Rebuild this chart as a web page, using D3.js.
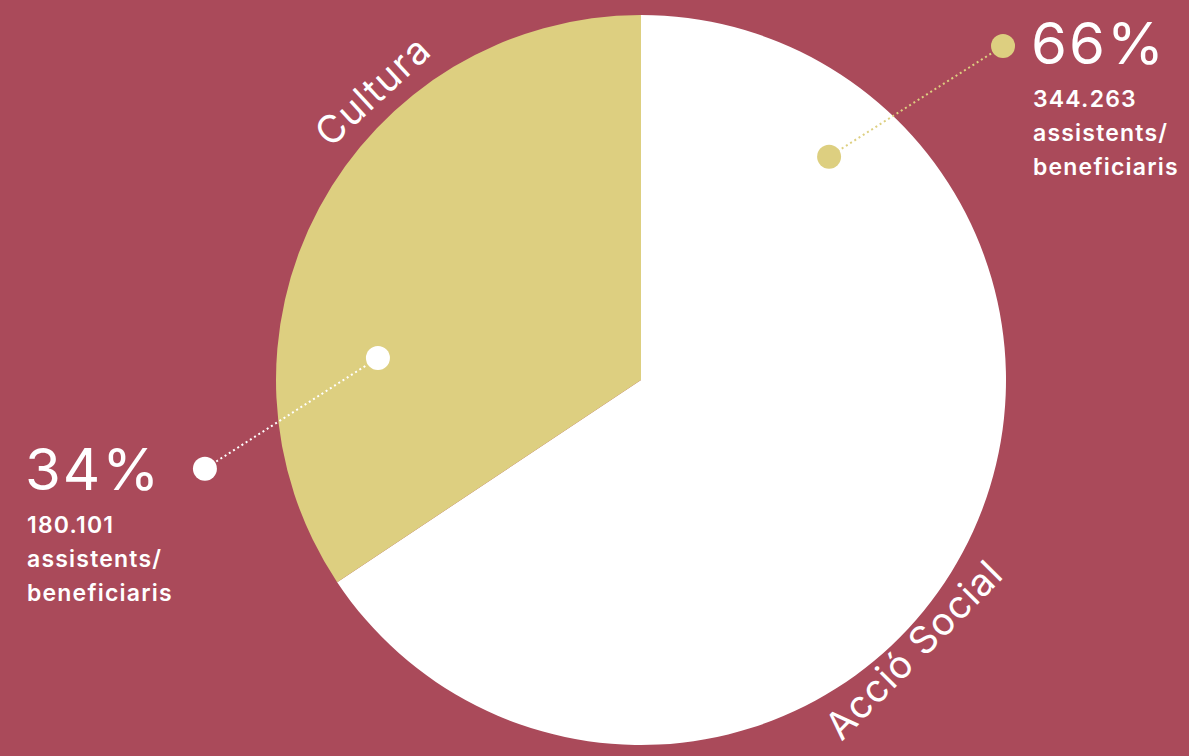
<!DOCTYPE html>
<html>
<head>
<meta charset="utf-8">
<script src="https://cdn.jsdelivr.net/npm/d3@7"></script>
<style>
  html, body { margin: 0; padding: 0; background: #aa4a5a; }
  svg { display: block; }
</style>
</head>
<body>
<svg id="chart"></svg>
<script>
// data
var categories = ["Acció Social", "Cultura"];
var counts = [344263, 180101];
var percentLabels = ["66%", "34%"];
var countLabels = ["344.263", "180.101"];
var unitLines = ["assistents/", "beneficiaris"];
var sliceColors = ["#ffffff", "#ddcf80"];
var dotColors = ["#ddcf80", "#ffffff"];

var width = 1189;
var height = 756;
var cx = 641, cy = 380;
var radius = 365;
var bg = "#aa4a5a";

var svg = d3.select("#chart")
  .attr("width", width)
  .attr("height", height);

svg.append("rect")
  .attr("width", width)
  .attr("height", height)
  .attr("fill", bg);

var g = svg.append("g")
  .attr("transform", "translate(" + cx + "," + cy + ")");

var pie = d3.pie().sort(null).value(function(d) { return d; });
var arcs = pie(counts);

var arc = d3.arc().innerRadius(0).outerRadius(radius);

g.selectAll("path.slice")
  .data(arcs)
  .enter().append("path")
  .attr("class", "slice")
  .attr("d", arc)
  .attr("fill", function(d, i) { return sliceColors[i]; });

// category labels along the rim (bottom one flipped so it reads upwards)
var rad = Math.PI / 180;
g.selectAll("text.cat")
  .data(arcs)
  .enter().append("text")
  .attr("class", "cat")
  .attr("transform", function(d) {
    var mid = (d.startAngle + d.endAngle) / 2;
    var bottom = Math.cos(mid + 19 * rad) < 0;
    var a = mid + (bottom ? 16.5 : 19) * rad;
    var r = bottom ? radius + 32 : radius + 16;
    var p = d3.pointRadial(a, r);
    var rot = a / rad;
    if (bottom) rot -= 180;
    return "translate(" + p[0] + "," + p[1] + ") rotate(" + rot + ")";
  })
  .attr("text-anchor", "middle")
  .attr("font-family", "Inter, 'Open Sans', sans-serif")
  .attr("font-weight", 400)
  .attr("font-size", 38)
  .attr("letter-spacing", function(d, i) { return i === 0 ? 1 : 1.5; })
  .attr("fill", "#ffffff")
  .text(function(d, i) { return categories[i]; });

// callouts: [inner angle, inner r, outer angle, outer r] in degrees
var callouts = [
  [40.1, 292, 47.3, 492.6],
  [274.8, 264, 258.5, 445]
];

callouts.forEach(function(c, i) {
  var p0 = d3.pointRadial(c[0] * rad, c[1]);
  var p1 = d3.pointRadial(c[2] * rad, c[3]);
  g.append("line")
    .attr("x1", p0[0]).attr("y1", p0[1])
    .attr("x2", p1[0]).attr("y2", p1[1])
    .attr("stroke", dotColors[i])
    .attr("stroke-width", 2)
    .attr("stroke-dasharray", "2,3");
  g.append("circle")
    .attr("cx", p0[0]).attr("cy", p0[1]).attr("r", 12)
    .attr("fill", dotColors[i]);
  g.append("circle")
    .attr("cx", p1[0]).attr("cy", p1[1]).attr("r", 12)
    .attr("fill", dotColors[i]);
});

// text blocks
var blocks = [
  { x: 1031, y: 64 },
  { x: 25, y: 490 }
];

blocks.forEach(function(b, i) {
  svg.append("text")
    .attr("x", b.x)
    .attr("y", b.y)
    .attr("font-family", "Inter, 'Open Sans', sans-serif")
    .attr("font-weight", 400)
    .attr("font-size", 58)
    .attr("letter-spacing", 2)
    .attr("fill", "#ffffff")
    .text(percentLabels[i]);

  var lines = [countLabels[i]].concat(unitLines);
  svg.append("text")
    .attr("font-family", "Inter, 'Open Sans', sans-serif")
    .attr("font-weight", 600)
    .attr("font-size", 23)
    .attr("letter-spacing", 1.2)
    .attr("fill", "#ffffff")
    .selectAll("tspan")
    .data(lines)
    .enter().append("tspan")
    .attr("x", b.x + 2)
    .attr("y", function(d, j) { return b.y + 43 + j * 34; })
    .text(function(d) { return d; });
});
</script>
</body>
</html>
